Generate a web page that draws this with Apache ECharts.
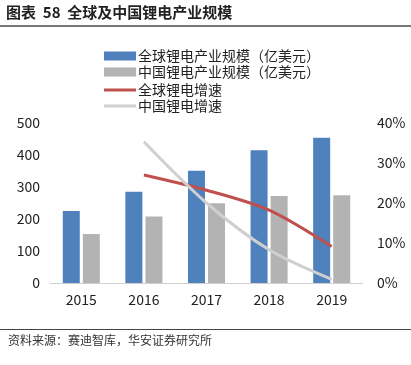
<!DOCTYPE html>
<html><head><meta charset="utf-8">
<script src="https://cdn.jsdelivr.net/npm/echarts@6/dist/echarts.min.js"></script>
<style>html,body{margin:0;padding:0;background:#fff}#c{width:411px;height:365px}</style>
</head><body><div id="c"></div>
<script>
const years = ['2015','2016','2017','2018','2019'];
const globalScale = [225, 285, 351, 415, 454];
const chinaScale = [153, 208, 249, 272, 274];
const globalGrowth = [null, 27.0, 23.2, 18.2, 9.1];
const chinaGrowth = [null, 35.3, 20.0, 8.3, 0.9];
const leftTicks = [0, 500, 100];
const rightTicks = [0, 40, 10];
const names = ['全球锂电产业规模（亿美元）','中国锂电产业规模（亿美元）','全球锂电增速','中国锂电增速'];

const chart = echarts.init(document.getElementById('c'));
const font = '"Noto Sans CJK SC", "Noto Sans", sans-serif';
const legendTops = [44, 60, 78, 94];
const legends = names.map((n, i) => ({
  left:99, top:legendTops[i], itemWidth:32, itemHeight: i < 2 ? 9 : 3, icon:'rect',
  textStyle:{fontSize:14, color:'#222', fontFamily:font, padding:[0,0,0,-3]}, data:[n]
}));
chart.setOption({
  animation:false,
  textStyle:{fontFamily:font},
  graphic:[
    {type:'text', left:6, top:5, style:{text:'图表  58  全球及中国锂电产业规模', font:'bold 15px '+font, fill:'#222'}},
    {type:'rect', shape:{x:0,y:25,width:411,height:2}, style:{fill:'#777'}},
    {type:'rect', shape:{x:0,y:329,width:411,height:1}, style:{fill:'#444'}},
    {type:'text', left:8, top:334, style:{text:'资料来源：赛迪智库，华安证券研究所', font:'12px '+font, fill:'#333'}}
  ],
  legend:legends,
  grid:{left:50, right:48, top:123, bottom:82},
  xAxis:{type:'category', data:years,
    axisLine:{lineStyle:{color:'#d0d0d0'}},
    axisTick:{alignWithLabel:false, length:5, lineStyle:{color:'#d0d0d0'}},
    axisLabel:{fontSize:14, color:'#222', margin:10}},
  yAxis:[
    {type:'value', min:leftTicks[0], max:leftTicks[1], interval:leftTicks[2], splitLine:{show:false},
     axisLabel:{fontSize:14, color:'#222', margin:10}},
    {type:'value', min:rightTicks[0], max:rightTicks[1], interval:rightTicks[2], splitLine:{show:false},
     axisLabel:{fontSize:14, color:'#222', margin:14, formatter:'{value}%'}}
  ],
  series:[
    {name:names[0], type:'bar', data:globalScale, barWidth:17, barGap:'18%', itemStyle:{color:'#4F81BD'}},
    {name:names[1], type:'bar', data:chinaScale, barWidth:17, itemStyle:{color:'#B3B3B3'}},
    {name:names[2], type:'line', yAxisIndex:1, data:globalGrowth, smooth:0.3, showSymbol:false,
     lineStyle:{width:3, color:'#C0504D'}, itemStyle:{color:'#C0504D'}},
    {name:names[3], type:'line', yAxisIndex:1, data:chinaGrowth, smooth:0.3, showSymbol:false,
     lineStyle:{width:3, color:'#CFCFCF'}, itemStyle:{color:'#CFCFCF'}}
  ]
});
</script></body></html>
